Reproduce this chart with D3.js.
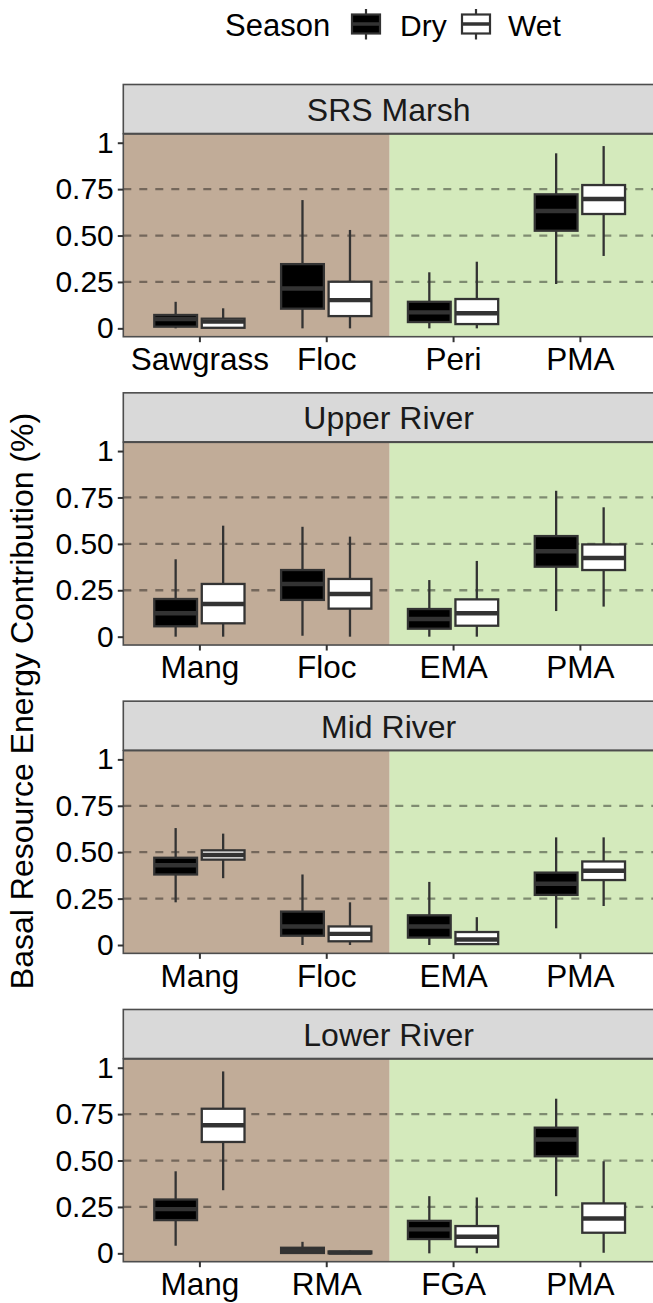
<!DOCTYPE html>
<html><head><meta charset="utf-8">
<script src="https://cdn.jsdelivr.net/npm/d3@7"></script>
<style>body{margin:0;background:#fff}svg{display:block}text{font-family:"Liberation Sans",Arial,sans-serif}</style>
</head><body><svg id="c" width="653" height="1303"></svg>
<script>
const panels = ["SRS Marsh","Upper River","Mid River","Lower River"];
const seasons = ["Dry","Wet"];
const categories = [["Sawgrass","Floc","Peri","PMA"],["Mang","Floc","EMA","PMA"],["Mang","Floc","EMA","PMA"],["Mang","RMA","FGA","PMA"]];
const yTicks = [0,0.25,0.5,0.75,1];
const yTickLabels = ["0","0.25","0.50","0.75","1"];
const gridValues = [0.25,0.5,0.75];
// each entry: [lower whisker, q1, median, q3, upper whisker]
const srsMarshDry = [[0,0.009,0.05,0.072,0.143],[0,0.106,0.215,0.346,0.691],[0,0.034,0.086,0.143,0.302],[0.239,0.526,0.632,0.722,0.943]];
const srsMarshWet = [[0,0.003,0.036,0.052,0.108],[0,0.066,0.152,0.251,0.53],[0,0.023,0.081,0.158,0.359],[0.39,0.616,0.697,0.772,0.982]];
const upperDry = [[0,0.056,0.126,0.203,0.417],[0.005,0.198,0.284,0.359,0.592],[0,0.043,0.095,0.149,0.305],[0.138,0.377,0.46,0.542,0.786]];
const upperWet = [[0,0.072,0.176,0.284,0.598],[0,0.151,0.23,0.311,0.539],[0,0.059,0.126,0.201,0.408],[0.162,0.359,0.424,0.497,0.697]];
const midDry = [[0.23,0.38,0.43,0.47,0.63],[0,0.05,0.10,0.18,0.38],[0,0.04,0.10,0.16,0.34],[0.09,0.27,0.33,0.39,0.58]];
const midWet = [[0.36,0.46,0.485,0.51,0.60],[0,0.02,0.06,0.10,0.23],[0,0.005,0.03,0.07,0.15],[0.21,0.35,0.40,0.45,0.58]];
const lowerDry = [[0.041,0.179,0.238,0.29,0.442],[0,0.002,0.015,0.03,0.062],[0,0.077,0.129,0.175,0.308],[0.308,0.523,0.613,0.677,0.833]];
const lowerWet = [[0.34,0.6,0.69,0.779,0.98],[0,0,0.004,0.01,0.015],[0,0.036,0.089,0.147,0.301],[0.003,0.111,0.188,0.269,0.496]];
const panelData = [[srsMarshDry,srsMarshWet],[upperDry,upperWet],[midDry,midWet],[lowerDry,lowerWet]];

const svg = d3.select("#c");
const FONT = 30, XFONT = 31.5, SFONT = 32;
const left = 123.3, right = 656;
const panelH = 202.7, stripH = 49, firstTop = 134, pitch = 308.33;
const fillC = {Dry:"#000000", Wet:"#ffffff"};
const lineC = "#333333";

// legend
const lg = svg.append("g");
lg.append("text").attr("x",225).attr("y",36).attr("font-size",31).text("Season");
[["Dry",351,400],["Wet",461,508]].forEach(([s,kx,tx])=>{
  const g = lg.append("g");
  g.append("line").attr("x1",kx+15).attr("x2",kx+15).attr("y1",9).attr("y2",39.5).attr("stroke",lineC).attr("stroke-width",2.2);
  g.append("rect").attr("x",kx+1).attr("y",14.5).attr("width",28).attr("height",19).attr("fill",fillC[s]).attr("stroke",lineC).attr("stroke-width",2.2);
  g.append("line").attr("x1",kx+1).attr("x2",kx+29).attr("y1",24).attr("y2",24).attr("stroke",lineC).attr("stroke-width",3.5);
  lg.append("text").attr("x",tx).attr("y",36).attr("font-size",FONT).text(s);
});

// y title
svg.append("text").attr("transform","translate(33,701) rotate(-90)").attr("text-anchor","middle")
  .attr("font-size",SFONT).text("Basal Resource Energy Contribution (%)");

panels.forEach((name,k)=>{
  const top = firstTop + pitch*k;
  const bottom = top + panelH;
  const y = d3.scaleLinear().domain([-0.045,1.047]).range([bottom,top]);
  const x = d3.scalePoint().domain(categories[k]).range([left,right]).padding(0.6);
  const xs = d3.scaleBand().domain(seasons).range([-47.5,47.5]).paddingInner(0.1).paddingOuter(0.05);
  const g = svg.append("g");
  const mid = (x(categories[k][1]) + x(categories[k][2]))/2;
  // backgrounds
  g.append("rect").attr("x",left).attr("y",top).attr("width",mid-left).attr("height",panelH).attr("fill","#c1ac98");
  g.append("rect").attr("x",mid).attr("y",top).attr("width",right-mid).attr("height",panelH).attr("fill","#d4eabc");
  // dashed lines
  g.selectAll(".grid").data(gridValues).join("line")
    .attr("x1",left).attr("x2",right).attr("y1",d=>y(d)).attr("y2",d=>y(d))
    .attr("stroke","rgba(0,0,0,0.4)").attr("stroke-width",2.3).attr("stroke-dasharray","8,8");
  // boxes
  categories[k].forEach((cat,i)=>{
    seasons.forEach((s,j)=>{
      const st = panelData[k][j][i];
      const cx = x(cat) + xs(s) + xs.bandwidth()/2;
      const bw = xs.bandwidth();
      g.append("line").attr("x1",cx).attr("x2",cx).attr("y1",y(st[4])).attr("y2",y(st[3])).attr("stroke",lineC).attr("stroke-width",2.3);
      g.append("line").attr("x1",cx).attr("x2",cx).attr("y1",y(st[1])).attr("y2",y(st[0])).attr("stroke",lineC).attr("stroke-width",2.3);
      g.append("rect").attr("x",cx-bw/2).attr("y",y(st[3])).attr("width",bw).attr("height",Math.max(0,y(st[1])-y(st[3])))
        .attr("fill",fillC[s]).attr("stroke",lineC).attr("stroke-width",2.3);
      g.append("line").attr("x1",cx-bw/2).attr("x2",cx+bw/2).attr("y1",y(st[2])).attr("y2",y(st[2])).attr("stroke",lineC).attr("stroke-width",4.4);
    });
  });
  // panel border
  g.append("rect").attr("x",left).attr("y",top).attr("width",right-left).attr("height",panelH)
    .attr("fill","none").attr("stroke","#4d4d4d").attr("stroke-width",1.6);
  // strip
  g.append("rect").attr("x",left).attr("y",top-stripH-0.5).attr("width",right-left).attr("height",stripH)
    .attr("fill","#d9d9d9").attr("stroke","#4d4d4d").attr("stroke-width",1.6);
  g.append("text").attr("x",(left+right)/2 - 1).attr("y",top-stripH/2+11.5).attr("text-anchor","middle")
    .attr("font-size",SFONT).attr("fill","#1a1a1a").text(name);
  // axes
  const ya = d3.axisLeft(y).tickValues(yTicks).tickFormat((d,i)=>yTickLabels[i]).tickSize(5.5).tickPadding(4);
  const yg = g.append("g").attr("transform",`translate(${left},0)`).call(ya);
  const xa = d3.axisBottom(x).tickSize(5.5).tickPadding(4);
  const xg = g.append("g").attr("transform",`translate(0,${bottom})`).call(xa);
  [yg,xg].forEach(a=>{
    a.select(".domain").remove();
    a.selectAll(".tick line").attr("stroke","#333").attr("stroke-width",2);
    a.selectAll(".tick text").attr("font-size",FONT).attr("fill","#000").attr("font-family",'"Liberation Sans",Arial,sans-serif');
  });
  xg.selectAll(".tick text").attr("font-size",XFONT).attr("dy","0.76em");
});
</script></body></html>
